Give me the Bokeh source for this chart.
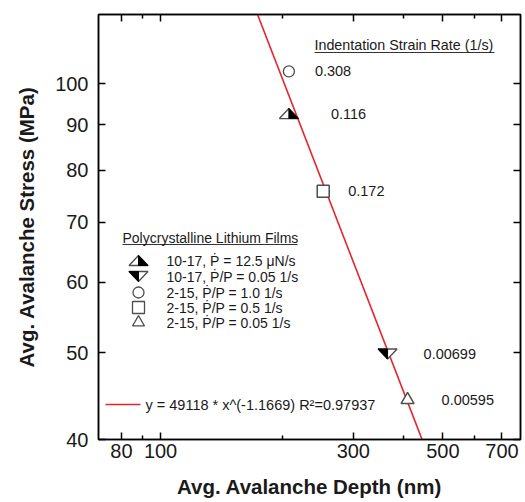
import math
from bokeh.plotting import figure
from bokeh.models import (LogAxis, FixedTicker, PrintfTickFormatter, CustomJSTickFormatter,
                          Range1d, Label, ColumnDataSource)
from bokeh.core.properties import value
from bokeh.embed import file_html
from bokeh.resources import INLINE

# ---------------- data ----------------
series_labels = ["10-17, Ṗ = 12.5 μN/s", "10-17, Ṗ/P = 0.05 1/s", "2-15, Ṗ/P = 1.0 1/s",
                 "2-15, Ṗ/P = 0.5 1/s", "2-15, Ṗ/P = 0.05 1/s"]
depth_nm = [207.8, 364.7, 207.8, 252.7, 408.7]
stress_mpa = [92.6, 49.85, 103.2, 75.8, 44.3]
strain_rate_labels = ["0.116", "0.00699", "0.308", "0.172", "0.00595"]
fit_coef = 49118
fit_exp = -1.1669
fit_r2 = 0.97937
fit_depth_ends = [150, 500]
x_ticks = [80, 100, 300, 500, 700]
x_minor_ticks = [90, 200, 400, 600]
y_ticks = [40, 50, 60, 70, 80, 90, 100]
legend_title = "Polycrystalline Lithium Films"
annot_title = "Indentation Strain Rate (1/s)"
fit_label = "y = 49118 * x^(-1.1669)  R²=0.97937"

# ---------------- layout / style ----------------
X0, X1 = 70.2, 778.0
Y0, Y1 = 40.0, 119.5
FW, FH = 422, 425
FONT = "Liberation Sans"
TXT = "#1a1a1a"
MK = "#4d4d4d"
RED = "#e3262b"


def lspan(a, b):
    return math.log10(b) - math.log10(a)


def to_px(x, y):
    return (FW * lspan(X0, x) / lspan(X0, X1), FH * lspan(y, Y1) / lspan(Y0, Y1))


def to_data(px, py):
    x = 10 ** (math.log10(X0) + px / FW * lspan(X0, X1))
    y = 10 ** (math.log10(Y1) - py / FH * lspan(Y0, Y1))
    return x, y


def shape_at(px, py, offs):
    pts = [to_data(px + dx, py + dy) for dx, dy in offs]
    return [q[0] for q in pts], [q[1] for q in pts]


TW, TH = 19, 10
UP_OUT = [(0, -TH / 2), (TW / 2, TH / 2), (-TW / 2, TH / 2)]
UP_FILL = [(0, -TH / 2), (TW / 2, TH / 2), (0, TH / 2)]
DN_OUT = [(-TW / 2, -TH / 2), (TW / 2, -TH / 2), (0, TH / 2)]
DN_FILL = [(-TW / 2, -TH / 2), (0, -TH / 2), (0, TH / 2)]

p = figure(frame_width=FW, frame_height=FH, x_axis_type="log", y_axis_type="log",
           x_range=Range1d(X0, X1), y_range=Range1d(Y0, Y1),
           output_backend="svg", toolbar_location=None,
           min_border_left=98, min_border_right=5, min_border_top=14, min_border_bottom=63)
p.grid.visible = False
p.outline_line_color = "black"
p.outline_line_width = 1.5
p.background_fill_color = "white"
p.border_fill_color = "white"


def style_axis(ax, labels=True):
    ax.axis_line_color = "black"
    ax.axis_line_width = 1.5
    ax.major_tick_line_color = "black"
    ax.minor_tick_line_color = "black"
    ax.major_tick_line_width = 1.5
    ax.minor_tick_line_width = 1.5
    ax.major_tick_in = 7
    ax.major_tick_out = 0
    ax.minor_tick_in = 4
    ax.minor_tick_out = 0
    ax.major_label_text_font = FONT
    ax.major_label_text_color = TXT
    if labels:
        ax.formatter = PrintfTickFormatter(format="%d")
        ax.major_label_text_font_size = "20px"
    else:
        ax.formatter = CustomJSTickFormatter(code="return ''")
        ax.major_label_text_font_size = "1px"
        ax.major_label_standoff = 0


xt = FixedTicker(ticks=x_ticks, minor_ticks=x_minor_ticks)
yt = FixedTicker(ticks=y_ticks, minor_ticks=[])

xa = p.xaxis[0]
xa.ticker = xt
style_axis(xa)
xa.major_label_standoff = 4
xa.axis_label = "Avg. Avalanche Depth (nm)"
xa.axis_label_standoff = 14

ya = p.yaxis[0]
ya.ticker = yt
style_axis(ya)
ya.major_label_standoff = 10
ya.axis_label = "Avg. Avalanche Stress (MPa)"
ya.axis_label_standoff = 14

for ax in (xa, ya):
    ax.axis_label_text_font = FONT
    ax.axis_label_text_font_style = "bold"
    ax.axis_label_text_font_size = "20.5px"
    ax.axis_label_text_color = TXT

top = LogAxis(ticker=FixedTicker(ticks=x_ticks, minor_ticks=x_minor_ticks))
style_axis(top, labels=False)
p.add_layout(top, "above")
right = LogAxis(ticker=FixedTicker(ticks=y_ticks, minor_ticks=[]))
style_axis(right, labels=False)
p.add_layout(right, "right")

# ---------------- fit line ----------------
fit_stress = [fit_coef * d ** fit_exp for d in fit_depth_ends]
p.line(fit_depth_ends, fit_stress, line_color=RED, line_width=1.6)

# ---------------- data markers ----------------
pos = [to_px(x, y) for x, y in zip(depth_nm, stress_mpa)]
ox, oy = shape_at(*pos[0], UP_OUT)
fx, fy = shape_at(*pos[0], UP_FILL)
p.patch(ox, oy, fill_color="white", line_color=MK, line_width=1.3)
p.patch(fx, fy, fill_color="black", line_color="black", line_width=1)
ox, oy = shape_at(*pos[1], DN_OUT)
fx, fy = shape_at(*pos[1], DN_FILL)
p.patch(ox, oy, fill_color="white", line_color=MK, line_width=1.3)
p.patch(fx, fy, fill_color="black", line_color="black", line_width=1)
p.scatter([depth_nm[2]], [stress_mpa[2]], marker="circle", size=11,
          fill_color="white", line_color=MK, line_width=1.3)
p.scatter([depth_nm[3]], [stress_mpa[3]], marker="square", size=12,
          fill_color="white", line_color=MK, line_width=1.5)
p.scatter([depth_nm[4]], [stress_mpa[4]], marker="triangle", size=13,
          fill_color="white", line_color=MK, line_width=1.5)

annot_offsets = [42, 36, 26, 25, 34]
src = ColumnDataSource(dict(x=depth_nm, y=stress_mpa, t=strain_rate_labels, dx=annot_offsets))
p.text(x="x", y="y", text="t", x_offset="dx", source=src, text_font=value(FONT),
       text_font_size="14.5px", text_color=TXT, text_align="left", text_baseline="middle")

hx, hy = to_data(216, 30)
p.add_layout(Label(x=hx, y=hy, text=annot_title, text_font=FONT, text_font_size="14.3px",
                   text_color=TXT, text_align="left", text_baseline="middle"))
ux0, uy = to_data(216, 38)
ux1, _ = to_data(396, 38)
p.segment([ux0], [uy], [ux1], [uy], line_color="#333333", line_width=1)

# ---------------- legend ----------------
lx, ly = to_data(24, 223)
p.add_layout(Label(x=lx, y=ly, text=legend_title, text_font=FONT, text_font_size="14px",
                   text_color=TXT, text_align="left", text_baseline="middle"))
ux0, uy = to_data(24, 230)
ux1, _ = to_data(199, 230)
p.segment([ux0], [uy], [ux1], [uy], line_color="#333333", line_width=1)

rows = [246, 262, 278, 293, 308]
MX, TX = 40, 68
for i, lab in enumerate(series_labels):
    tx, ty = to_data(TX, rows[i])
    p.add_layout(Label(x=tx, y=ty, text=lab, text_font=FONT, text_font_size="14px",
                       text_color=TXT, text_align="left", text_baseline="middle"))
ox, oy = shape_at(MX, rows[0], UP_OUT)
fx, fy = shape_at(MX, rows[0], UP_FILL)
p.patch(ox, oy, fill_color="white", line_color=MK, line_width=1.3)
p.patch(fx, fy, fill_color="black", line_color="black", line_width=1)
ox, oy = shape_at(MX, rows[1], DN_OUT)
fx, fy = shape_at(MX, rows[1], DN_FILL)
p.patch(ox, oy, fill_color="white", line_color=MK, line_width=1.3)
p.patch(fx, fy, fill_color="black", line_color="black", line_width=1)
for i, mk, sz in [(2, "circle", 11), (3, "square", 12), (4, "triangle", 12)]:
    mx, my = to_data(MX, rows[i])
    p.scatter([mx], [my], marker=mk, size=sz, fill_color="white", line_color=MK, line_width=1.3)

a0, fyy = to_data(7, 390)
a1, _ = to_data(42, 390)
p.line([a0, a1], [fyy, fyy], line_color=RED, line_width=1.6)
fx0, _ = to_data(47, 390)
p.add_layout(Label(x=fx0, y=fyy, text=fit_label, text_font=FONT, text_font_size="14.5px",
                   text_color=TXT, text_align="left", text_baseline="middle"))

open("out.html", "w").write(file_html(p, INLINE))
